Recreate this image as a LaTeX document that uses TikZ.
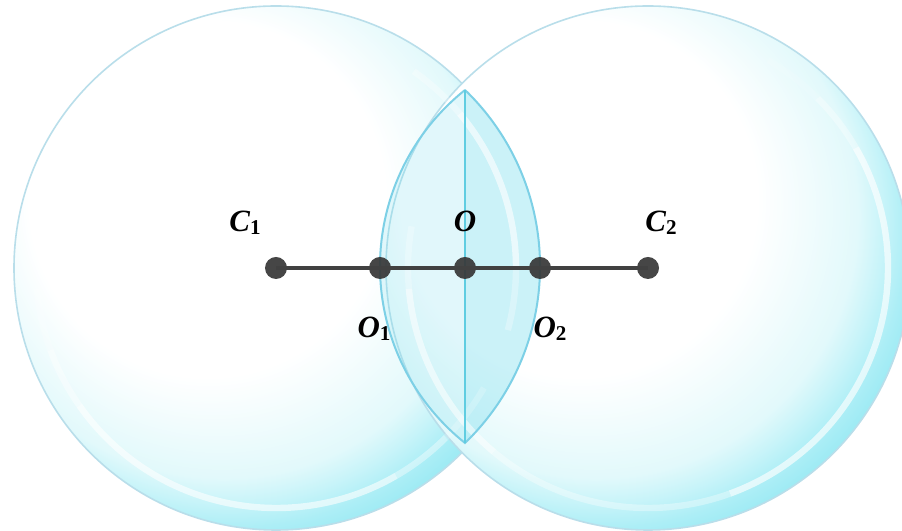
\documentclass[tikz,border=0pt]{standalone}
\usepackage{fontspec}
\setmainfont{Liberation Serif}
\definecolor{bA}{RGB}{241,252,253}
\definecolor{bB}{RGB}{226,249,251}
\definecolor{bC}{RGB}{200,244,249}
\definecolor{bD}{RGB}{172,238,246}
\definecolor{bE}{RGB}{152,233,243}
\definecolor{rimline}{RGB}{185,222,234}
\definecolor{lensline}{RGB}{125,208,230}
\definecolor{midline}{RGB}{95,205,225}
\definecolor{lensfill}{RGB}{120,222,238}
\definecolor{dotgray}{RGB}{55,55,55}
\definecolor{linegray}{RGB}{65,65,65}
\pgfdeclareradialshading{bubbleshade}{\pgfpoint{-10bp}{10bp}}{color(0bp)=(white); color(17bp)=(white); color(21bp)=(bA); color(25bp)=(bB); color(27bp)=(bC); color(29bp)=(bD); color(31bp)=(bE); color(50bp)=(bE)}
\newcommand\lsub[1]{\raisebox{-1.5pt}{\upshape\fontsize{15}{15}\selectfont #1}}
\begin{document}
\begin{tikzpicture}[x=0.025cm,y=0.025cm,
  bubble/.style={shading=bubbleshade, draw=rimline, line width=0.04cm},
  ring/.style={draw=white, line width=0.16cm, line cap=butt},
  lensedge/.style={draw=lensline, line width=0.05cm},
  dot/.style={circle, fill=dotgray, fill opacity=0.92, inner sep=0pt, minimum size=0.55cm},
  axisline/.style={draw=linegray, line width=0.1cm},
  lbl/.style={inner sep=0pt, anchor=base, font=\fontsize{22}{26}\selectfont\bfseries\itshape}]
\useasboundingbox (0,0) rectangle (902,531);
\clip (0,0) rectangle (902,531);
% centres and lens tips
\coordinate (c1) at (276,263);
\coordinate (c2) at (648,263);
\coordinate (o1) at (380,263);
\coordinate (o)  at (465,263);
\coordinate (o2) at (540,263);
\coordinate (LT) at (465,441);
\coordinate (LB) at (465,88);
% bubbles
\path[bubble] (c1) circle[radius=262];
\path[bubble] (c2) circle[radius=262];
% lens fill
\fill[lensfill, fill opacity=0.22] (LT) arc[start angle=128.57, end angle=231.43, radius=225.75] -- cycle;
\fill[lensfill, fill opacity=0.38] (LB) arc[start angle=-46.05, end angle=46.05, radius=245.18] -- cycle;
% highlight rings
\foreach \a/\b/\op in {185/200/0.2, 200/215/0.4, 215/300/0.6, 300/315/0.4, 315/330/0.2,
                       345/360/0.3, 360/400/0.6, 400/415/0.3}
  \draw[ring, draw opacity=\op] ([shift={(\a:240)}]c1) arc[start angle=\a, end angle=\b, radius=240];
\foreach \a/\b/\op in {170/185/0.25, 185/230/0.55, 230/290/0.35, 290/390/0.65, 390/405/0.35, 405/420/0.12}
  \draw[ring, draw opacity=\op] ([shift={(\a:240)}]c2) arc[start angle=\a, end angle=\b, radius=240];
% lens outline
\draw[lensedge] (LT) arc[start angle=128.57, end angle=231.43, radius=225.75]
                     arc[start angle=-46.05, end angle=46.05, radius=245.18];
\draw[draw=midline, line width=0.045cm] (LT) -- (LB);
% axis and points
\node[dot] (C1) at (c1) {};
\node[dot] (O1) at (o1) {};
\node[dot] (O)  at (o)  {};
\node[dot] (O2) at (o2) {};
\node[dot] (C2) at (c2) {};
\draw[axisline] (C1.center) -- (C2.center);
% labels
\node[lbl] (lC1) at (245,299) {C\lsub{1}};
\node[lbl] (lO)  at (465,299) {O};
\node[lbl] (lC2) at (661,299) {C\lsub{2}};
\node[lbl] (lO1) at (374,193) {O\lsub{1}};
\node[lbl] (lO2) at (550,193) {O\lsub{2}};
\end{tikzpicture}
\end{document}
